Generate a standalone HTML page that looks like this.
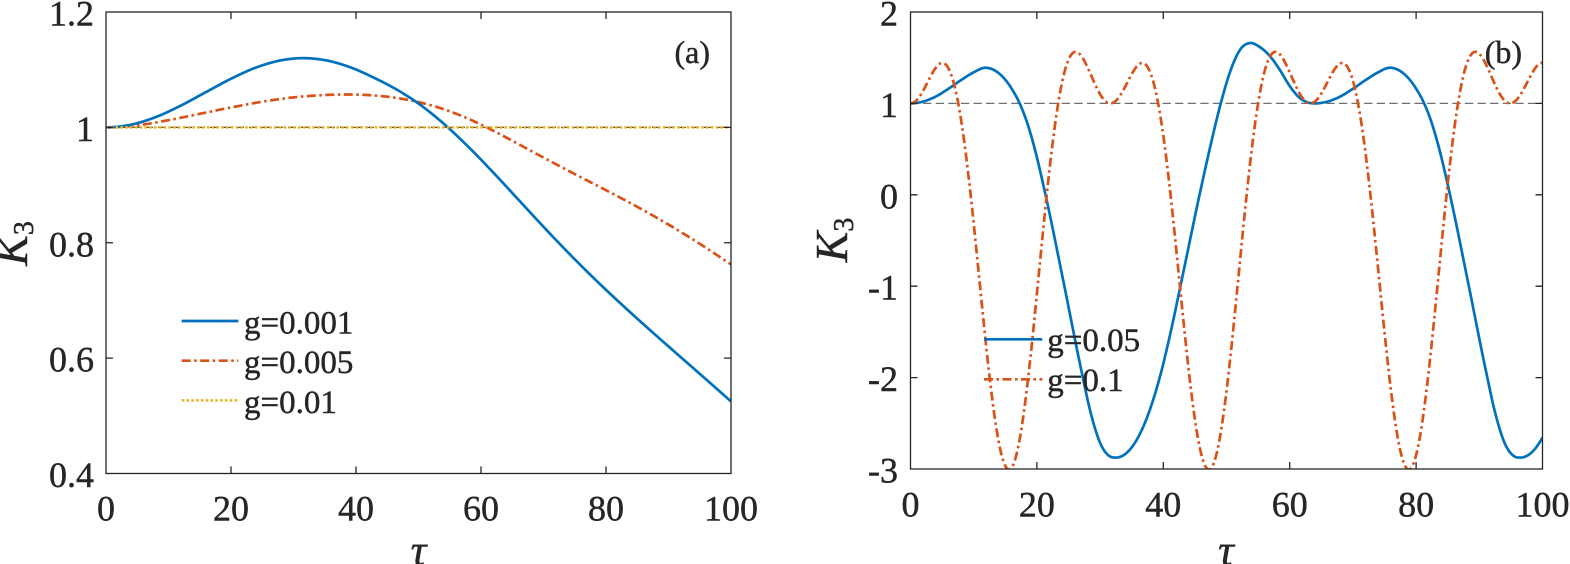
<!DOCTYPE html>
<html>
<head>
<meta charset="utf-8">
<style>
  html,body{margin:0;padding:0;background:#fff;}
  svg{display:block;}
  svg text{font-family:"Liberation Serif","Times New Roman",Times,serif;fill:#262626;stroke:#262626;stroke-width:0.45;}
</style>
</head>
<body>
<svg id="s" width="1570" height="564" viewBox="0 0 1570 564" xmlns="http://www.w3.org/2000/svg" font-family="'Liberation Serif', 'Times New Roman', Times, serif">
  <rect x="0" y="0" width="1570" height="564" fill="#fff"/>
  <defs>
    <clipPath id="ca"><rect x="106" y="12" width="625" height="461.5"/></clipPath>
    <clipPath id="cb"><rect x="910.5" y="12" width="632" height="457"/></clipPath>
  </defs>

  <!-- ================= Panel (a) ================= -->
  <g clip-path="url(#ca)" fill="none">
    <line x1="106" y1="127.4" x2="731" y2="127.4" stroke="#555" stroke-width="1.2" stroke-dasharray="8,5"/>
    <path id="ared" stroke="#D95319" stroke-width="2.7" stroke-dasharray="9,3.5,2.5,3.5"/>
    <path id="ablue" stroke="#0072BD" stroke-width="2.7"/>
    <line x1="106" y1="127.4" x2="731" y2="127.4" stroke="#EDB120" stroke-width="2.5" stroke-dasharray="2.6,2.2"/>
  </g>
  <g stroke="#262626" stroke-width="1.3" fill="none">
    <rect x="106" y="12" width="625" height="461.5"/>
    <path d="M231,473.5v-7M356,473.5v-7M481,473.5v-7M606,473.5v-7
             M231,12v7M356,12v7M481,12v7M606,12v7
             M106,358.1h7M106,242.75h7M106,127.4h7
             M731,358.1h-7M731,242.75h-7M731,127.4h-7"/>
  </g>
  <g font-size="36" text-anchor="end">
    <text x="94" y="25.5">1.2</text>
    <text x="94" y="140.9">1</text>
    <text x="94" y="256.3">0.8</text>
    <text x="94" y="371.6">0.6</text>
    <text x="94" y="487">0.4</text>
  </g>
  <g font-size="36" text-anchor="middle">
    <text x="106" y="520.7">0</text>
    <text x="231" y="520.7">20</text>
    <text x="356" y="520.7">40</text>
    <text x="481" y="520.7">60</text>
    <text x="606" y="520.7">80</text>
    <text x="731" y="520.7">100</text>
  </g>
  <text x="418.5" y="565" font-size="44" font-style="italic" text-anchor="middle">τ</text>
  <g transform="translate(27,243.5) rotate(-90)">
    <text x="0" y="0" font-size="46" text-anchor="middle"><tspan font-style="italic">K</tspan><tspan font-size="28" dy="6">3</tspan></text>
  </g>
  <text x="710" y="63" font-size="32" text-anchor="end">(a)</text>
  <!-- legend (a) -->
  <line x1="181.7" y1="321" x2="238.3" y2="321" stroke="#0072BD" stroke-width="2.7"/>
  <line x1="181.7" y1="360.7" x2="238.3" y2="360.7" stroke="#D95319" stroke-width="2.7" stroke-dasharray="9,3.5,2.5,3.5"/>
  <line x1="181.7" y1="400.4" x2="238.3" y2="400.4" stroke="#EDB120" stroke-width="2.5" stroke-dasharray="2.6,2.2"/>
  <g font-size="33">
    <text x="244" y="333.5">g=0.001</text>
    <text x="244" y="373.2">g=0.005</text>
    <text x="244" y="412.9">g=0.01</text>
  </g>

  <!-- ================= Panel (b) ================= -->
  <g clip-path="url(#cb)" fill="none">
    <line x1="910.5" y1="103.4" x2="1542.5" y2="103.4" stroke="#707070" stroke-width="1.3" stroke-dasharray="8.3,4.3"/>
    <path id="bblue" stroke="#0072BD" stroke-width="2.7"/>
    <path id="bred" stroke="#D95319" stroke-width="2.7" stroke-dasharray="9,3.5,2.5,3.5"/>
  </g>
  <g stroke="#262626" stroke-width="1.3" fill="none">
    <rect x="910.5" y="12" width="632" height="457"/>
    <path d="M1036.9,469v-7M1163.3,469v-7M1289.7,469v-7M1416.1,469v-7
             M1036.9,12v7M1163.3,12v7M1289.7,12v7M1416.1,12v7
             M910.5,103.4h7M910.5,194.8h7M910.5,286.2h7M910.5,377.6h7
             M1542.5,103.4h-7M1542.5,194.8h-7M1542.5,286.2h-7M1542.5,377.6h-7"/>
  </g>
  <g font-size="36" text-anchor="end">
    <text x="898" y="25.5">2</text>
    <text x="898" y="116.9">1</text>
    <text x="898" y="208.3">0</text>
    <text x="898" y="299.7">-1</text>
    <text x="898" y="391.1">-2</text>
    <text x="898" y="482.5">-3</text>
  </g>
  <g font-size="36" text-anchor="middle">
    <text x="910.5" y="516.7">0</text>
    <text x="1036.9" y="516.7">20</text>
    <text x="1163.3" y="516.7">40</text>
    <text x="1289.7" y="516.7">60</text>
    <text x="1416.1" y="516.7">80</text>
    <text x="1542.5" y="516.7">100</text>
  </g>
  <text x="1226" y="565" font-size="44" font-style="italic" text-anchor="middle">τ</text>
  <g transform="translate(847,240) rotate(-90)">
    <text x="0" y="0" font-size="46" text-anchor="middle"><tspan font-style="italic">K</tspan><tspan font-size="28" dy="6">3</tspan></text>
  </g>
  <text x="1522" y="63" font-size="32" text-anchor="end">(b)</text>
  <!-- legend (b) -->
  <line x1="984" y1="339.3" x2="1042.3" y2="339.3" stroke="#0072BD" stroke-width="2.7"/>
  <line x1="984" y1="379.3" x2="1042.3" y2="379.3" stroke="#D95319" stroke-width="2.7" stroke-dasharray="9,3.5,2.5,3.5"/>
  <g font-size="33">
    <text x="1047.3" y="350.8">g=0.05</text>
    <text x="1047.3" y="390.8">g=0.1</text>
  </g>
</svg>

<script>
(function(){
  function herm(pts, m0, mN){
    var n=pts.length, xs=[], ys=[], m=[];
    for(var i=0;i<n;i++){xs.push(pts[i][0]); ys.push(pts[i][1]);}
    for(var i=0;i<n;i++){
      if(i===0){ m[i] = (m0!==undefined)? m0 : (ys[1]-ys[0])/(xs[1]-xs[0]); }
      else if(i===n-1){ m[i] = (mN!==undefined)? mN : (ys[n-1]-ys[n-2])/(xs[n-1]-xs[n-2]); }
      else {
        var h1=xs[i]-xs[i-1], h2=xs[i+1]-xs[i];
        var d1=(ys[i]-ys[i-1])/h1, d2=(ys[i+1]-ys[i])/h2;
        m[i]=(d1*h2+d2*h1)/(h1+h2);
      }
    }
    return function(x){
      var i=0; while(i<n-2 && x>xs[i+1]) i++;
      var h=xs[i+1]-xs[i], t=(x-xs[i])/h, t2=t*t, t3=t2*t;
      return (2*t3-3*t2+1)*ys[i]+(t3-2*t2+t)*h*m[i]+(-2*t3+3*t2)*ys[i+1]+(t3-t2)*h*m[i+1];
    };
  }
  function build(f, X, Y){
    var d='';
    for(var k=0;k<=1000;k++){
      var t=k*0.1;
      d += (k===0?'M':'L') + X(t).toFixed(2) + ',' + Y(f(t)).toFixed(2);
    }
    return d;
  }
  // Panel (a)
  var Xa=function(t){return 106+6.25*t;};
  var Ya=function(k){return 473.5-(k-0.4)*576.875;};
  var blueA = herm([[0,1.0],[4,1.0047],[8,1.018],[12,1.0379],[16,1.0612],[20,1.0843],[24,1.1037],
    [28,1.1162],[31.6,1.12],[35,1.1166],[39,1.1045],[43,1.0854],[47,1.0624],[50,1.0413],[54,1.0067],
    [58,0.9661],[62,0.9213],[66,0.8745],[70,0.8277],[74,0.7823],[78,0.7391],[82,0.6981],[86,0.6587],
    [90,0.6203],[95,0.5728],[100,0.525]],0);
  var redA = herm([[0,1.0],[5,1.0035],[10,1.0125],[15,1.0235],[20,1.0345],[25,1.0445],[30,1.052],
    [35,1.0561],[38.5,1.057],[42,1.05595],[46,1.0518],[50,1.0438],[54,1.0316],[58,1.0148],[62,0.994],
    [66,0.971],[70,0.9476],[75,0.9191],[80,0.8911],[85,0.8623],[90,0.8315],[95,0.7982],[100,0.7625]],0);
  document.getElementById('ablue').setAttribute('d', build(blueA, Xa, Ya));
  document.getElementById('ared').setAttribute('d', build(redA, Xa, Ya));

  // Panel (b)
  var Xb=function(t){return 910.5+6.32*t;};
  var Yb=function(k){return 12+(2-k)*91.4;};
  var tmpl = herm([[0,1.0],[2,1.02],[4,1.075],[6,1.16],[8,1.255],[10,1.34],[11.8,1.39],
    [13,1.372],[14.5,1.297],[16,1.162],[17.4,0.98],[18.5,0.78],[19.5,0.545],[21.3,0.02],
    [24.2,-0.95],[27.1,-1.944],[28.4,-2.354],[30,-2.714],[31.5,-2.86],[32.4,-2.875],
    [34,-2.835],[36.3,-2.616],[38,-2.327],[39.5,-1.982],[41,-1.554],[42.9,-0.936],[45.8,0.021],
    [47.5,0.548],[49,0.976],[50.6,1.352],[52.2,1.592],[53.7,1.66],[55.3,1.615],[56.9,1.515],
    [58.5,1.36],[60,1.19],[61.5,1.065],[62.8,1.012],[64,1.0]],0,0);
  var blueB=function(t){ return tmpl(t%64); };
  var w=2*Math.PI/31.63;
  var redB=function(t){ var f=w*t; return 2*Math.cos(f)-Math.cos(2*f)-0.14*Math.sin(f)+0.07*Math.sin(2*f); };
  document.getElementById('bblue').setAttribute('d', build(blueB, Xb, Yb));
  document.getElementById('bred').setAttribute('d', build(redB, Xb, Yb));
})();
</script>
</body>
</html>
